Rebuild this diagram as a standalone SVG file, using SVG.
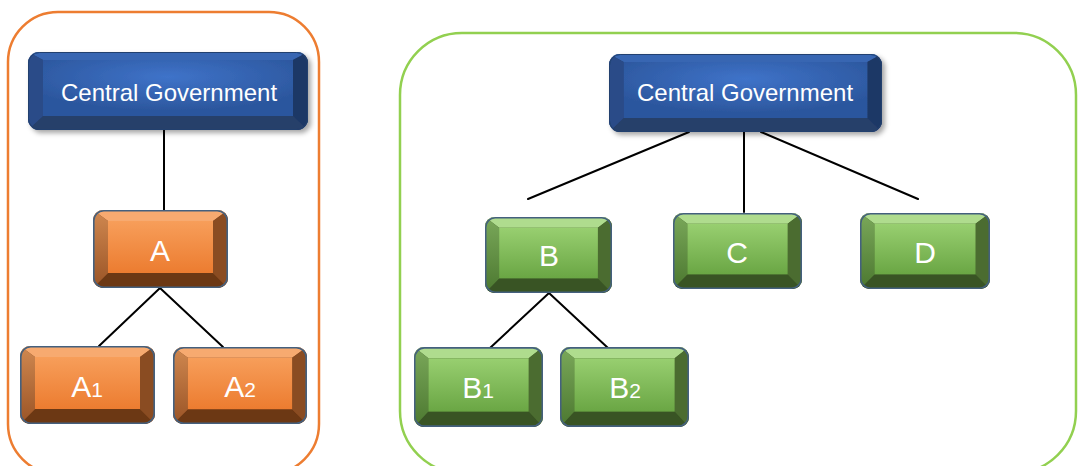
<svg xmlns="http://www.w3.org/2000/svg" xmlns:xlink="http://www.w3.org/1999/xlink" width="1078" height="466" viewBox="0 0 1078 466">
<style>
.container{fill:none;stroke-width:2.5}
.conn{stroke:#000;stroke-width:2;fill:none;stroke-linecap:round}
.label{font-family:"Liberation Sans",Arial,sans-serif;fill:#fff;text-anchor:middle}
.cg{font-size:24px}
.big{font-size:30px}
.sub{font-size:21px}
.border{fill:none;stroke:#44607e;stroke-width:1.6}
</style>
<defs>
<filter id="shadow" x="-10%" y="-20%" width="125%" height="150%">
<feDropShadow dx="3" dy="3" stdDeviation="2.5" flood-color="#000" flood-opacity="0.35"/>
</filter>
<radialGradient id="blueFace" cx="0.5" cy="0.3" r="0.6">
<stop offset="0" stop-color="#3f73c9"/>
<stop offset="1" stop-color="#2c579e"/>
</radialGradient>
<linearGradient id="orangeFace" x1="0" y1="0" x2="0" y2="1">
<stop offset="0" stop-color="#f79e5a"/>
<stop offset="1" stop-color="#ec7c30"/>
</linearGradient>
<linearGradient id="orangeLeft" x1="0" y1="0" x2="0" y2="1">
<stop offset="0" stop-color="#d08850"/>
<stop offset="1" stop-color="#9a5426"/>
</linearGradient>
<linearGradient id="greenFace" x1="0" y1="0" x2="0" y2="1">
<stop offset="0" stop-color="#98cf70"/>
<stop offset="1" stop-color="#6aa644"/>
</linearGradient>
<linearGradient id="greenLeft" x1="0" y1="0" x2="0" y2="1">
<stop offset="0" stop-color="#7aa85a"/>
<stop offset="1" stop-color="#4c7830"/>
</linearGradient>
<clipPath id="clipBlue"><rect x="0" y="0" width="280" height="78" rx="11"/></clipPath>
<clipPath id="clipSmall"><rect x="0" y="0" width="135" height="78" rx="10"/></clipPath>
<symbol id="blueBox" viewBox="0 0 280 78" preserveAspectRatio="none">
<g clip-path="url(#clipBlue)">
<rect x="0" y="0" width="280" height="78" fill="#263f6e"/>
<polygon points="0,0 280,0 265,8 15,8" fill="#3766b2"/>
<polygon points="0,78 280,78 265,64 15,64" fill="#283f6a"/>
<polygon points="0,0 15,8 15,64 0,78" fill="#2a4c88"/>
<polygon points="280,0 265,8 265,64 280,78" fill="#1e3866"/>
<rect x="15" y="8" width="250" height="56" fill="url(#blueFace)"/>
</g>
<rect x="0.5" y="0.5" width="279" height="77" rx="11" fill="none" stroke="#22406e" stroke-width="1"/>
</symbol>
<symbol id="orangeBox" viewBox="0 0 135 78" preserveAspectRatio="none">
<g clip-path="url(#clipSmall)">
<rect x="0" y="0" width="135" height="78" fill="#8a4a1f"/>
<polygon points="0,0 135,0 120,11 15,11" fill="#f7aa70"/>
<polygon points="0,78 135,78 120,63 15,63" fill="#6c3814"/>
<polygon points="0,0 15,11 15,63 0,78" fill="url(#orangeLeft)"/>
<polygon points="135,0 120,11 120,63 135,78" fill="#8a4c22"/>
<rect x="15" y="11" width="105" height="52" fill="url(#orangeFace)"/>
</g>
<rect x="0.8" y="0.8" width="133.4" height="76.4" rx="10" class="border"/>
</symbol>
<symbol id="greenBox" viewBox="0 0 135 78" preserveAspectRatio="none">
<g clip-path="url(#clipSmall)">
<rect x="0" y="0" width="135" height="78" fill="#3d5a26"/>
<polygon points="0,0 135,0 120,11 15,11" fill="#afdc8e"/>
<polygon points="0,78 135,78 120,63 15,63" fill="#395424"/>
<polygon points="0,0 15,11 15,63 0,78" fill="url(#greenLeft)"/>
<polygon points="135,0 120,11 120,63 135,78" fill="#4b6c30"/>
<rect x="15" y="11" width="105" height="52" fill="url(#greenFace)"/>
</g>
<rect x="0.8" y="0.8" width="133.4" height="76.4" rx="10" class="border"/>
</symbol>
</defs>
<rect width="1078" height="466" fill="#fff"/>
<g id="containers">
<rect id="groupLeft" class="container" x="8" y="12" width="311" height="462" rx="50" stroke="#ed7d31"/>
<rect id="groupRight" class="container" x="400" y="33" width="676" height="440" rx="62" stroke="#92d050"/>
</g>
<g id="connectors">
<line class="conn" x1="164" y1="130" x2="164" y2="210"/>
<line class="conn" x1="160" y1="288" x2="99" y2="346"/>
<line class="conn" x1="160" y1="288" x2="223" y2="347"/>
<line class="conn" x1="689" y1="132" x2="528" y2="199"/>
<line class="conn" x1="744" y1="132" x2="744" y2="212"/>
<line class="conn" x1="761" y1="132" x2="918" y2="199"/>
<line class="conn" x1="549" y1="293" x2="490" y2="348"/>
<line class="conn" x1="549" y1="293" x2="608" y2="348"/>
</g>
<g id="node-cg-left">
<use xlink:href="#blueBox" x="28" y="52" width="280" height="78" filter="url(#shadow)"/>
<text class="label cg" x="169" y="101">Central Government</text>
</g>
<g id="node-cg-right">
<use xlink:href="#blueBox" x="609" y="54" width="273" height="78" filter="url(#shadow)"/>
<text class="label cg" x="745" y="101">Central Government</text>
</g>
<g id="node-A">
<use xlink:href="#orangeBox" x="93" y="210" width="135" height="78"/>
<text class="label big" x="160" y="261">A</text>
</g>
<g id="node-A1">
<use xlink:href="#orangeBox" x="20" y="346" width="135" height="78"/>
<text class="label big" x="87" y="397">A<tspan class="sub">1</tspan></text>
</g>
<g id="node-A2">
<use xlink:href="#orangeBox" x="173" y="347" width="134" height="77"/>
<text class="label big" x="240" y="397">A<tspan class="sub">2</tspan></text>
</g>
<g id="node-B">
<use xlink:href="#greenBox" x="485" y="217" width="127" height="76"/>
<text class="label big" x="549" y="266">B</text>
</g>
<g id="node-C">
<use xlink:href="#greenBox" x="673" y="213" width="129" height="76"/>
<text class="label big" x="737" y="263">C</text>
</g>
<g id="node-D">
<use xlink:href="#greenBox" x="860" y="213" width="130" height="76"/>
<text class="label big" x="925" y="263">D</text>
</g>
<g id="node-B1">
<use xlink:href="#greenBox" x="414" y="347" width="129" height="80"/>
<text class="label big" x="478" y="398">B<tspan class="sub">1</tspan></text>
</g>
<g id="node-B2">
<use xlink:href="#greenBox" x="560" y="347" width="129" height="80"/>
<text class="label big" x="625" y="398">B<tspan class="sub">2</tspan></text>
</g>
</svg>
